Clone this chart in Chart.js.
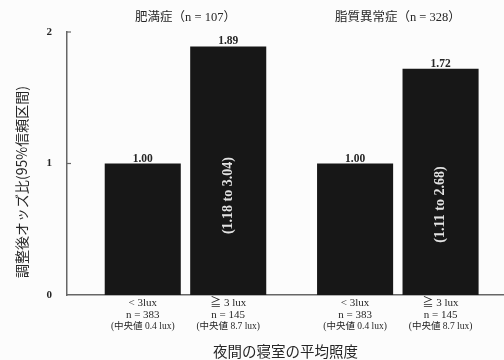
<!DOCTYPE html>
<html>
<head>
<meta charset="utf-8">
<script src="https://cdn.jsdelivr.net/npm/chart.js@4/dist/chart.umd.min.js"></script>
<style>
  html, body { margin: 0; padding: 0; background: #fcfcfc; }
  #chart { display: block; }
</style>
</head>
<body>
<canvas id="chart" width="504" height="360"></canvas>
<script>
// Outcome groups and their case counts
const groups = ['肥満症', '脂質異常症'];
const groupN = [107, 328];

// Bedroom light-level categories under each group
const levelLabels = ['< 3lux', '≧ 3 lux'];
const levelN = [383, 145];
const levelMedian = ['0.4', '8.7'];

// Adjusted odds ratios per group
const below3lux = [1.00, 1.00];
const atLeast3lux = [1.89, 1.72];

// 95% confidence intervals for the ≧ 3 lux bars
const ciLower = [1.18, 1.11];
const ciUpper = [3.04, 2.68];

// Y axis ticks
const yTicks = [0, 1, 2];

const SERIF = '"Liberation Serif", "Noto Sans CJK JP", serif';
const JP = '"Noto Sans CJK JP", "Liberation Serif", sans-serif';
const TEXT = '#262626';

const annotate = {
  id: 'annotate',
  afterDraw(chart) {
    const ctx = chart.ctx;
    const xs = chart.scales.x;
    const ys = chart.scales.y;
    ctx.save();
    ctx.fillStyle = TEXT;
    ctx.textAlign = 'center';

    // group titles above each pair of bars
    ctx.font = '12.5px ' + SERIF;
    ctx.textBaseline = 'middle';
    groups.forEach((g, i) => {
      ctx.fillText(g + '（n = ' + groupN[i] + '）', xs.getPixelForValue(i), 18);
    });

    // short inward tick marks on the y axis
    ctx.strokeStyle = '#666';
    ctx.lineWidth = 1.2;
    yTicks.filter(v => v > 0).forEach(v => {
      const y = ys.getPixelForValue(v);
      ctx.beginPath();
      ctx.moveTo(ys.right, y);
      ctx.lineTo(ys.right + 4, y);
      ctx.stroke();
    });

    const series = [below3lux, atLeast3lux];
    series.forEach((vals, d) => {
      const meta = chart.getDatasetMeta(d);
      meta.data.forEach((el, i) => {
        // value label above the bar
        ctx.fillStyle = TEXT;
        ctx.font = 'bold 11.5px ' + SERIF;
        ctx.textBaseline = 'alphabetic';
        ctx.fillText(vals[i].toFixed(2), el.x, el.y - 2);

        // category labels below the bar
        const top = xs.top;
        ctx.textBaseline = 'middle';
        ctx.font = '11px ' + SERIF;
        ctx.fillText(levelLabels[d], el.x, top + 8);
        ctx.fillText('n = ' + levelN[d], el.x, top + 20);
        ctx.font = '9.5px ' + SERIF;
        ctx.fillText('(中央値 ' + levelMedian[d] + ' lux)', el.x, top + 31);

        // confidence interval written vertically inside the bar
        if (d === 1) {
          ctx.save();
          ctx.translate(el.x, ys.getPixelForValue(vals[i] * 0.4));
          ctx.rotate(-Math.PI / 2);
          ctx.fillStyle = '#e2e2e2';
          ctx.font = 'bold 14px ' + SERIF;
          ctx.textBaseline = 'middle';
          ctx.fillText('(' + ciLower[i].toFixed(2) + ' to ' + ciUpper[i].toFixed(2) + ')', 0, 0);
          ctx.restore();
        }
      });
    });

    // axis titles
    ctx.fillStyle = TEXT;
    ctx.font = '14.5px ' + JP;
    ctx.textBaseline = 'middle';
    ctx.fillText('夜間の寝室の平均照度', (xs.left + xs.right) / 2, 351);

    ctx.save();
    ctx.translate(22, 182);
    ctx.rotate(-Math.PI / 2);
    ctx.font = '14px ' + JP;
    ctx.fillText('調整後オッズ比(95%信頼区間)', 0, 0);
    ctx.restore();

    ctx.restore();
  }
};

new Chart(document.getElementById('chart'), {
  type: 'bar',
  data: {
    datasets: [
      {
        label: levelLabels[0],
        data: groups.map((g, i) => ({ x: i, y: below3lux[i] })),
        backgroundColor: '#171717'
      },
      {
        label: levelLabels[1],
        data: groups.map((g, i) => ({ x: i, y: atLeast3lux[i] })),
        backgroundColor: '#171717'
      }
    ]
  },
  options: {
    responsive: false,
    animation: false,
    categoryPercentage: 0.805,
    barPercentage: 0.89,
    layout: { padding: { top: 32, right: 0, left: 0, bottom: 0 } },
    plugins: {
      legend: { display: false },
      tooltip: { enabled: false }
    },
    scales: {
      x: {
        type: 'linear',
        offset: false,
        bounds: 'data',
        min: -0.558,
        max: 1.5,
        afterBuildTicks(scale) {
          scale.ticks = groups.map((g, i) => ({ value: i }));
        },
        afterFit(scale) { scale.height = 65; },
        ticks: { display: false },
        grid: { display: false, offset: false },
        border: { display: true, color: '#666', width: 1.5 }
      },
      y: {
        min: 0,
        max: 2,
        afterBuildTicks(scale) {
          scale.ticks = yTicks.map(v => ({ value: v }));
        },
        afterFit(scale) { scale.width = 67; },
        ticks: {
          color: TEXT,
          padding: 7,
          font: { family: SERIF, size: 11, weight: 'bold' }
        },
        grid: { display: false },
        border: { display: true, color: '#666', width: 1.5 }
      }
    }
  },
  plugins: [annotate]
});
</script>
</body>
</html>
